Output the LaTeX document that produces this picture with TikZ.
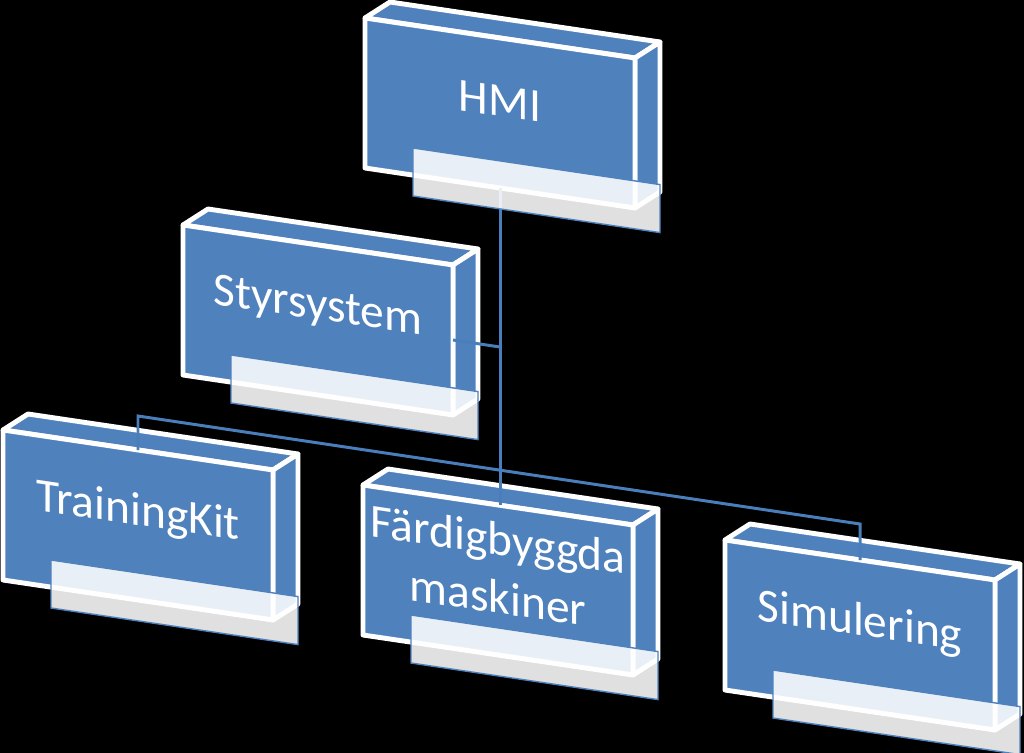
\documentclass[tikz,border=0pt]{standalone}
\usepackage{fontspec}
\setmainfont{Carlito}
\usetikzlibrary{calc}
\definecolor{boxblue}{HTML}{4F81BD}
\definecolor{linkblue}{HTML}{4A7EBB}
\tikzset{
  face/.style={fill=boxblue,draw=white,line width=2.8pt,line join=round},
  tab/.style={fill=white,fill opacity=0.88,draw=boxblue,line width=0.8pt},
  boxtext/.style={text=white,font=\fontsize{27}{33}\selectfont,align=center,yslant=-0.148},
  link/.style={draw=linkblue,line width=1.7pt}
}
% #1,#2 front top-left corner, #3 name, #4 text
\newcommand\orgbox[4]{
  \coordinate (#3) at (#1,#2);
  \draw[face] (#3) -- ++(25,-16) -- ++(270,40) -- ++(-25,16) -- cycle;
  \draw[face] ($(#3)+(270,40)$) -- ++(25,-16) -- ++(0,150) -- ++(-25,16) -- cycle;
  \draw[face] (#3) -- ++(270,40) -- ++(0,150) -- ++(-270,-40) -- cycle;
  \node[boxtext] (#3-text) at ($(#3)+(135,83)$) {#4};
  \coordinate (#3-top) at ($(#3)+(135,20)$);
  \coordinate (#3-bot) at ($(#3)+(135,170)$);
  \coordinate (#3-right) at ($(#3)+(270,115)$);
}
% light tab in front of the lower edge
\newcommand\orgtab[1]{
  \draw[tab] ($(#1)+(48,130)$) -- ++(247,36.6) -- ++(0,48) -- ++(-247,-36.6) -- cycle;
}

\begin{document}
\begin{tikzpicture}[x=0.02cm,y=-0.02cm]
  \fill[black] (0,0) rectangle (1024,753);
  \useasboundingbox (0,0) rectangle (1024,753);

  \orgbox{365}{18}{hmi}{HMI}
  \orgbox{183}{225}{styr}{Styrsystem}
  \orgbox{3}{430}{kit}{TrainingKit}
  \orgbox{363}{485}{fard}{Färdigbyggda\\maskiner}
  \orgbox{725}{540}{sim}{Simulering}

  % connectors
  \coordinate (busl) at ($(kit-top)+(0,-34)$);
  \coordinate (busr) at ($(sim-top)+(0,-36)$);
  \draw[link] (hmi-bot) -- (hmi-bot |- fard-top);
  \draw[link] (styr-right) -- ++(47,7);
  \draw[link] (kit-top) -- (busl) -- (busr) -- (sim-top);

  \orgtab{hmi}
  \orgtab{styr}
  \orgtab{kit}
  \orgtab{fard}
  \orgtab{sim}
\end{tikzpicture}
\end{document}
